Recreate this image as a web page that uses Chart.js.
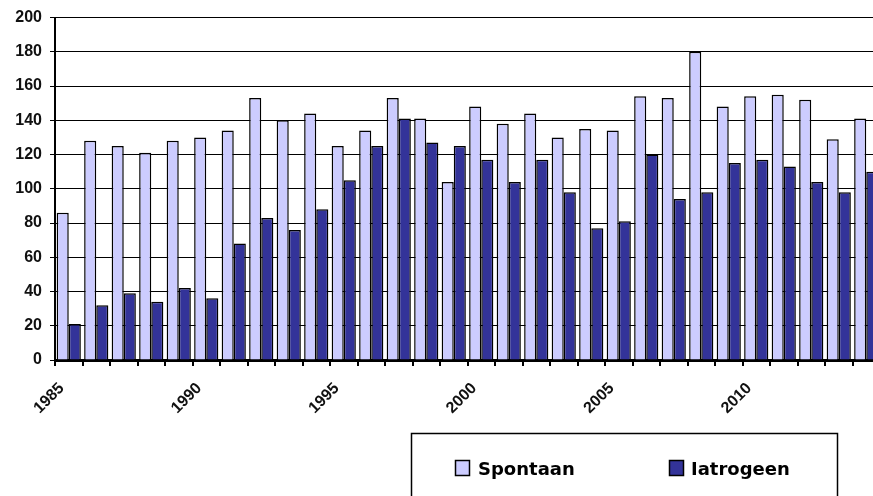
<!DOCTYPE html>
<html>
<head>
<meta charset="utf-8">
<script src="https://cdn.jsdelivr.net/npm/chart.js@4/dist/chart.umd.min.js"></script>
<style>
  html, body { margin: 0; padding: 0; overflow: hidden; background: #fff; }
  #wrap { width: 880px; height: 496px; }
</style>
</head>
<body>
<div id="wrap"><canvas id="barChart" width="880" height="496"></canvas></div>
<script>
// years on the x axis
const years = [1985, 1986, 1987, 1988, 1989, 1990, 1991, 1992, 1993, 1994,
               1995, 1996, 1997, 1998, 1999, 2000, 2001, 2002, 2003, 2004,
               2005, 2006, 2007, 2008, 2009, 2010, 2011, 2012, 2013, 2014];

const spontaan = [86, 128, 125, 121, 128, 130, 134, 153, 140, 144,
                  125, 134, 153, 141, 104, 148, 138, 144, 130, 135,
                  134, 154, 153, 180, 148, 154, 155, 152, 129, 141];

const iatrogeen = [21, 32, 39, 34, 42, 36, 68, 83, 76, 88,
                   105, 125, 141, 127, 125, 117, 104, 117, 98, 77,
                   81, 120, 94, 98, 115, 117, 113, 104, 98, 110];

const yTicks = [0, 20, 40, 60, 80, 100, 120, 140, 160, 180, 200];
const labelEvery = 5;

const tickFont = { family: 'Liberation Sans, Arial, sans-serif', size: 16, weight: 'bold' };

// boxed legend drawn under the plot, like the original
const boxLegend = {
    id: 'boxLegend',
    afterDraw(chart) {
        const ctx = chart.ctx;
        const left = 411.5, top = 433.5, right = 837.5;
        ctx.save();
        ctx.lineWidth = 1.5;
        ctx.strokeStyle = '#000';
        ctx.strokeRect(left, top, right - left, 100);

        const items = [
            { x: 455, textX: 478 },
            { x: 669, textX: 691 }
        ];
        ctx.font = 'bold 18px "DejaVu Sans", sans-serif';
        ctx.textBaseline = 'alphabetic';
        chart.data.datasets.forEach((ds, i) => {
            const it = items[i];
            ctx.fillStyle = ds.backgroundColor;
            ctx.fillRect(it.x, 460, 15, 16);
            ctx.lineWidth = 1.5;
            ctx.strokeRect(it.x + 0.5, 460.5, 14, 15);
            ctx.fillStyle = '#000';
            ctx.fillText(ds.label, it.textX, 475);
        });
        ctx.restore();
    }
};

new Chart(document.getElementById('barChart'), {
    type: 'bar',
    data: {
        labels: years,
        datasets: [{
            label: 'Spontaan',
            data: spontaan,
            backgroundColor: '#CCCCFF',
            borderColor: '#000',
            borderWidth: 1.5
        }, {
            label: 'Iatrogeen',
            data: iatrogeen,
            backgroundColor: '#333399',
            borderColor: '#000',
            borderWidth: 1.5
        }]
    },
    options: {
        responsive: false,
        animation: false,
        layout: { padding: { top: 17, right: 0, bottom: 76, left: 0 } },
        datasets: {
            bar: { categoryPercentage: 0.88, barPercentage: 1.0 }
        },
        plugins: {
            legend: { display: false },
            tooltip: { enabled: false }
        },
        scales: {
            x: {
                afterFit(scale) {
                    scale.height = 60;
                    scale.paddingLeft = 0;
                    scale.paddingRight = 0;
                },
                grid: {
                    drawOnChartArea: false,
                    drawTicks: true,
                    tickLength: 6,
                    color: '#000',
                    lineWidth: 2
                },
                border: { color: '#000', width: 3 },
                ticks: {
                    autoSkip: false,
                    minRotation: 45,
                    maxRotation: 45,
                    padding: 13,
                    labelOffset: -7,
                    color: '#111',
                    font: { family: 'Liberation Sans, Arial, sans-serif', size: 16, weight: 'bold' },
                    callback(value) {
                        const y = years[value];
                        return y % labelEvery === 0 ? String(y) : '';
                    }
                }
            },
            y: {
                min: yTicks[0],
                max: yTicks[yTicks.length - 1],
                afterFit(scale) { scale.width = 55; },
                afterBuildTicks(scale) { scale.ticks = yTicks.map(v => ({ value: v })); },
                grid: {
                    color: '#000',
                    lineWidth: 1,
                    tickLength: 5
                },
                border: { color: '#000', width: 2 },
                ticks: {
                    padding: 8,
                    color: '#111',
                    font: tickFont
                }
            }
        }
    },
    plugins: [boxLegend]
});
</script>
</body>
</html>
